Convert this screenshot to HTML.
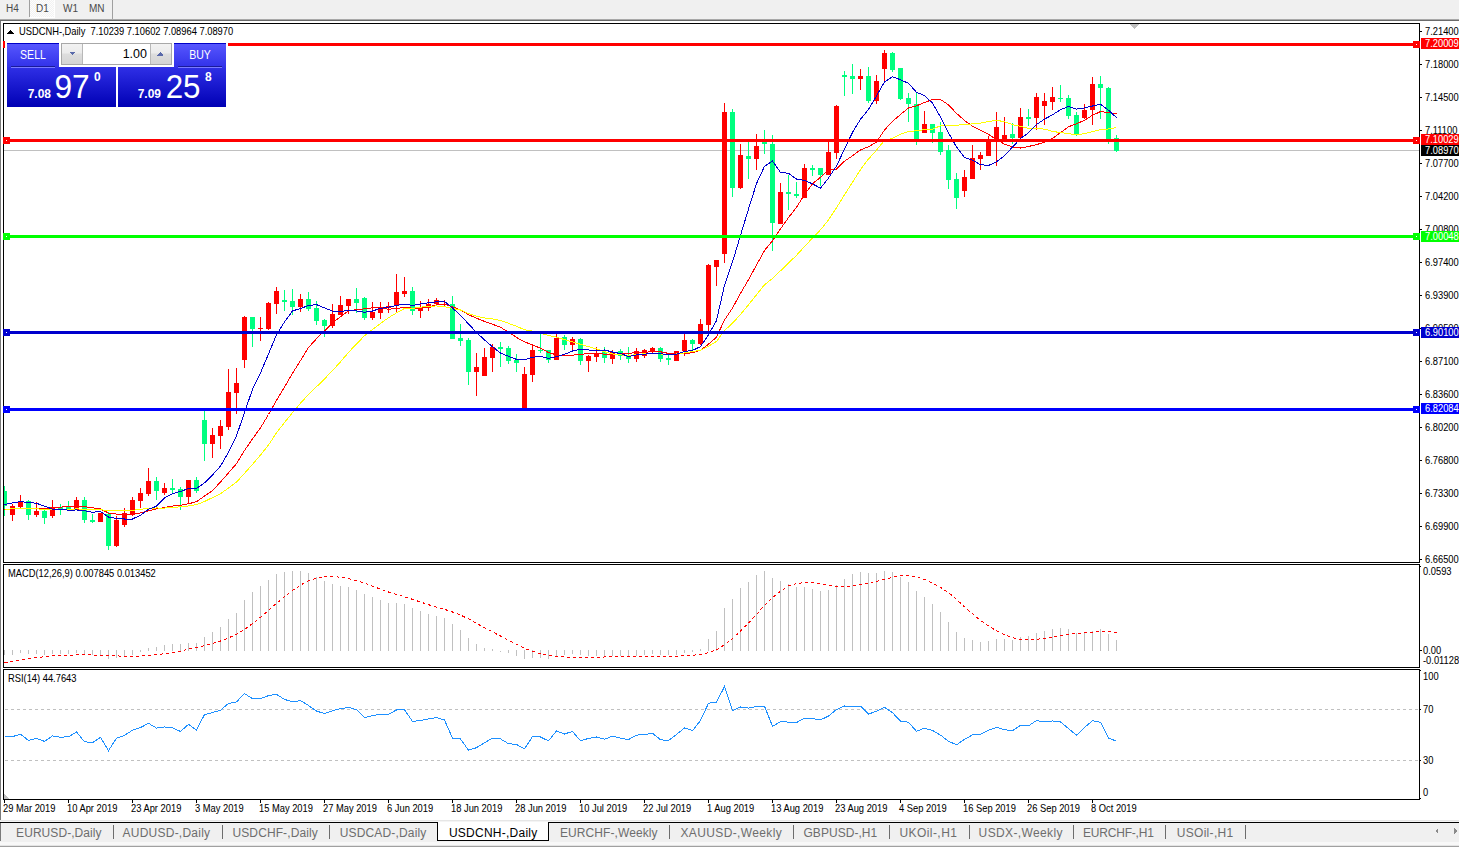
<!DOCTYPE html>
<html><head><meta charset="utf-8"><style>
html,body{margin:0;padding:0;background:#fff;}
body{width:1459px;height:847px;overflow:hidden;position:relative;}
svg{position:absolute;left:0;top:0;font-family:"Liberation Sans", sans-serif;}
</style></head><body>
<svg width="1459" height="847" viewBox="0 0 1459 847" shape-rendering="crispEdges">
<defs>
<pattern id="chk" width="2" height="2" patternUnits="userSpaceOnUse"><rect width="2" height="2" fill="#f2f2f2"/><rect width="1" height="1" fill="#fdfdfd"/><rect x="1" y="1" width="1" height="1" fill="#fdfdfd"/></pattern>
<clipPath id="mainclip"><rect x="4" y="24" width="1415" height="538"/></clipPath>
<linearGradient id="gtop" x1="0" y1="0" x2="0" y2="1"><stop offset="0" stop-color="#5858ff"/><stop offset="1" stop-color="#3030e8"/></linearGradient>
<linearGradient id="gbig" x1="0" y1="0" x2="0" y2="1"><stop offset="0" stop-color="#2f2fe6"/><stop offset="1" stop-color="#0000b4"/></linearGradient>
<linearGradient id="gbtn" x1="0" y1="0" x2="0" y2="1"><stop offset="0" stop-color="#f2f2f2"/><stop offset="0.45" stop-color="#ebebeb"/><stop offset="0.5" stop-color="#dddddd"/><stop offset="1" stop-color="#d4d4d4"/></linearGradient>
</defs>
<rect x="0" y="0" width="1459" height="19" fill="#f0f0f0"/><rect x="29" y="0" width="1" height="17" fill="#a0a0a0"/><rect x="30" y="0" width="25" height="18" fill="#ffffff"/><rect x="30" y="0" width="24" height="17" fill="url(#chk)"/><rect x="112" y="0" width="1" height="19" fill="#a0a0a0"/><rect x="0" y="19" width="1459" height="1" fill="#a8a8a8"/><rect x="0" y="20" width="1459" height="1" fill="#6a6a6a"/><text x="6" y="12" font-size="10" fill="#4a4a4a" stroke="#4a4a4a" stroke-width="0" letter-spacing="0" text-anchor="start" font-weight="normal">H4</text><text x="36" y="12" font-size="10" fill="#4a4a4a" stroke="#4a4a4a" stroke-width="0" letter-spacing="0" text-anchor="start" font-weight="normal">D1</text><text x="63" y="12" font-size="10" fill="#4a4a4a" stroke="#4a4a4a" stroke-width="0" letter-spacing="0" text-anchor="start" font-weight="normal">W1</text><text x="89" y="12" font-size="10" fill="#4a4a4a" stroke="#4a4a4a" stroke-width="0" letter-spacing="0" text-anchor="start" font-weight="normal">MN</text><rect x="0" y="21" width="1" height="799" fill="#7a7a7a"/><rect x="3" y="23" width="1417" height="1" fill="#000"/><rect x="3" y="562" width="1417" height="1" fill="#000"/><rect x="3" y="23" width="1" height="540" fill="#000"/><rect x="1419" y="23" width="1" height="540" fill="#000"/><rect x="3" y="564" width="1417" height="1" fill="#000"/><rect x="3" y="667" width="1417" height="1" fill="#000"/><rect x="3" y="564" width="1" height="104" fill="#000"/><rect x="1419" y="564" width="1" height="104" fill="#000"/><rect x="3" y="669" width="1417" height="1" fill="#000"/><rect x="3" y="799" width="1417" height="1" fill="#000"/><rect x="3" y="669" width="1" height="131" fill="#000"/><rect x="1419" y="669" width="1" height="131" fill="#000"/><rect x="1420" y="31" width="2" height="1" fill="#000"/><text transform="translate(1425 35) scale(0.89 1)" x="0" y="0" font-size="10.5" fill="#000" stroke="#000" stroke-width="0.05" letter-spacing="0" text-anchor="start" font-weight="normal">7.21400</text><rect x="1420" y="64" width="2" height="1" fill="#000"/><text transform="translate(1425 68) scale(0.89 1)" x="0" y="0" font-size="10.5" fill="#000" stroke="#000" stroke-width="0.05" letter-spacing="0" text-anchor="start" font-weight="normal">7.18000</text><rect x="1420" y="97" width="2" height="1" fill="#000"/><text transform="translate(1425 101) scale(0.89 1)" x="0" y="0" font-size="10.5" fill="#000" stroke="#000" stroke-width="0.05" letter-spacing="0" text-anchor="start" font-weight="normal">7.14500</text><rect x="1420" y="130" width="2" height="1" fill="#000"/><text transform="translate(1425 134) scale(0.89 1)" x="0" y="0" font-size="10.5" fill="#000" stroke="#000" stroke-width="0.05" letter-spacing="0" text-anchor="start" font-weight="normal">7.11100</text><rect x="1420" y="163" width="2" height="1" fill="#000"/><text transform="translate(1425 167) scale(0.89 1)" x="0" y="0" font-size="10.5" fill="#000" stroke="#000" stroke-width="0.05" letter-spacing="0" text-anchor="start" font-weight="normal">7.07700</text><rect x="1420" y="196" width="2" height="1" fill="#000"/><text transform="translate(1425 200) scale(0.89 1)" x="0" y="0" font-size="10.5" fill="#000" stroke="#000" stroke-width="0.05" letter-spacing="0" text-anchor="start" font-weight="normal">7.04200</text><rect x="1420" y="229" width="2" height="1" fill="#000"/><text transform="translate(1425 233) scale(0.89 1)" x="0" y="0" font-size="10.5" fill="#000" stroke="#000" stroke-width="0.05" letter-spacing="0" text-anchor="start" font-weight="normal">7.00800</text><rect x="1420" y="262" width="2" height="1" fill="#000"/><text transform="translate(1425 266) scale(0.89 1)" x="0" y="0" font-size="10.5" fill="#000" stroke="#000" stroke-width="0.05" letter-spacing="0" text-anchor="start" font-weight="normal">6.97400</text><rect x="1420" y="295" width="2" height="1" fill="#000"/><text transform="translate(1425 299) scale(0.89 1)" x="0" y="0" font-size="10.5" fill="#000" stroke="#000" stroke-width="0.05" letter-spacing="0" text-anchor="start" font-weight="normal">6.93900</text><rect x="1420" y="328" width="2" height="1" fill="#000"/><text transform="translate(1425 332) scale(0.89 1)" x="0" y="0" font-size="10.5" fill="#000" stroke="#000" stroke-width="0.05" letter-spacing="0" text-anchor="start" font-weight="normal">6.90500</text><rect x="1420" y="361" width="2" height="1" fill="#000"/><text transform="translate(1425 365) scale(0.89 1)" x="0" y="0" font-size="10.5" fill="#000" stroke="#000" stroke-width="0.05" letter-spacing="0" text-anchor="start" font-weight="normal">6.87100</text><rect x="1420" y="394" width="2" height="1" fill="#000"/><text transform="translate(1425 398) scale(0.89 1)" x="0" y="0" font-size="10.5" fill="#000" stroke="#000" stroke-width="0.05" letter-spacing="0" text-anchor="start" font-weight="normal">6.83600</text><rect x="1420" y="427" width="2" height="1" fill="#000"/><text transform="translate(1425 431) scale(0.89 1)" x="0" y="0" font-size="10.5" fill="#000" stroke="#000" stroke-width="0.05" letter-spacing="0" text-anchor="start" font-weight="normal">6.80200</text><rect x="1420" y="460" width="2" height="1" fill="#000"/><text transform="translate(1425 464) scale(0.89 1)" x="0" y="0" font-size="10.5" fill="#000" stroke="#000" stroke-width="0.05" letter-spacing="0" text-anchor="start" font-weight="normal">6.76800</text><rect x="1420" y="493" width="2" height="1" fill="#000"/><text transform="translate(1425 497) scale(0.89 1)" x="0" y="0" font-size="10.5" fill="#000" stroke="#000" stroke-width="0.05" letter-spacing="0" text-anchor="start" font-weight="normal">6.73300</text><rect x="1420" y="526" width="2" height="1" fill="#000"/><text transform="translate(1425 530) scale(0.89 1)" x="0" y="0" font-size="10.5" fill="#000" stroke="#000" stroke-width="0.05" letter-spacing="0" text-anchor="start" font-weight="normal">6.69900</text><rect x="1420" y="559" width="2" height="1" fill="#000"/><text transform="translate(1425 563) scale(0.89 1)" x="0" y="0" font-size="10.5" fill="#000" stroke="#000" stroke-width="0.05" letter-spacing="0" text-anchor="start" font-weight="normal">6.66500</text><rect x="4" y="150" width="1415" height="1" fill="#c0c0c0"/><rect x="1421" y="38" width="38" height="11" fill="#ff0000"/><text transform="translate(1425 47) scale(0.89 1)" x="0" y="0" font-size="10.5" fill="#fff" stroke="#fff" stroke-width="0.05" letter-spacing="0" text-anchor="start" font-weight="normal">7.20009</text><rect x="1421" y="134" width="38" height="11" fill="#ff0000"/><text transform="translate(1425 143) scale(0.89 1)" x="0" y="0" font-size="10.5" fill="#fff" stroke="#fff" stroke-width="0.05" letter-spacing="0" text-anchor="start" font-weight="normal">7.10029</text><rect x="1421" y="145" width="38" height="11" fill="#000000"/><text transform="translate(1425 154) scale(0.89 1)" x="0" y="0" font-size="10.5" fill="#fff" stroke="#fff" stroke-width="0.05" letter-spacing="0" text-anchor="start" font-weight="normal">7.08970</text><rect x="1421" y="231" width="38" height="11" fill="#00ff00"/><text transform="translate(1425 240) scale(0.89 1)" x="0" y="0" font-size="10.5" fill="#fff" stroke="#fff" stroke-width="0.05" letter-spacing="0" text-anchor="start" font-weight="normal">7.00048</text><rect x="1421" y="327" width="38" height="11" fill="#0000cd"/><text transform="translate(1425 336) scale(0.89 1)" x="0" y="0" font-size="10.5" fill="#fff" stroke="#fff" stroke-width="0.05" letter-spacing="0" text-anchor="start" font-weight="normal">6.90100</text><rect x="1421" y="403" width="38" height="11" fill="#0000ff"/><text transform="translate(1425 412) scale(0.89 1)" x="0" y="0" font-size="10.5" fill="#fff" stroke="#fff" stroke-width="0.05" letter-spacing="0" text-anchor="start" font-weight="normal">6.82084</text><polygon points="1129.5,24 1139.5,24 1134.5,29" fill="#c0c0c0"/><g clip-path="url(#mainclip)"><rect x="4" y="486" width="1" height="30" fill="#00ff7f"/><rect x="2" y="491" width="5" height="15" fill="#00ff7f"/><rect x="12" y="504" width="1" height="17" fill="#ff0000"/><rect x="10" y="506" width="5" height="9" fill="#ff0000"/><rect x="20" y="495" width="1" height="13" fill="#ff0000"/><rect x="18" y="501" width="5" height="6" fill="#ff0000"/><rect x="28" y="500" width="1" height="20" fill="#00ff7f"/><rect x="26" y="501" width="5" height="14" fill="#00ff7f"/><rect x="36" y="502" width="1" height="15" fill="#ff0000"/><rect x="34" y="511" width="5" height="4" fill="#ff0000"/><rect x="44" y="510" width="1" height="14" fill="#00ff7f"/><rect x="42" y="511" width="5" height="7" fill="#00ff7f"/><rect x="52" y="500" width="1" height="18" fill="#ff0000"/><rect x="50" y="507" width="5" height="9" fill="#ff0000"/><rect x="60" y="504" width="1" height="11" fill="#00ff7f"/><rect x="58" y="507" width="5" height="3" fill="#00ff7f"/><rect x="68" y="501" width="1" height="8" fill="#00ff7f"/><rect x="66" y="507" width="5" height="2" fill="#00ff7f"/><rect x="76" y="497" width="1" height="13" fill="#ff0000"/><rect x="74" y="500" width="5" height="10" fill="#ff0000"/><rect x="84" y="497" width="1" height="26" fill="#00ff7f"/><rect x="82" y="500" width="5" height="20" fill="#00ff7f"/><rect x="92" y="514" width="1" height="9" fill="#00ff7f"/><rect x="90" y="520" width="5" height="2" fill="#00ff7f"/><rect x="100" y="513" width="1" height="9" fill="#ff0000"/><rect x="98" y="513" width="5" height="9" fill="#ff0000"/><rect x="108" y="512" width="1" height="38" fill="#00ff7f"/><rect x="106" y="514" width="5" height="32" fill="#00ff7f"/><rect x="116" y="516" width="1" height="31" fill="#ff0000"/><rect x="114" y="520" width="5" height="26" fill="#ff0000"/><rect x="124" y="508" width="1" height="19" fill="#ff0000"/><rect x="122" y="513" width="5" height="12" fill="#ff0000"/><rect x="132" y="497" width="1" height="19" fill="#ff0000"/><rect x="130" y="500" width="5" height="14" fill="#ff0000"/><rect x="140" y="488" width="1" height="20" fill="#ff0000"/><rect x="138" y="493" width="5" height="8" fill="#ff0000"/><rect x="148" y="468" width="1" height="28" fill="#ff0000"/><rect x="146" y="481" width="5" height="13" fill="#ff0000"/><rect x="156" y="477" width="1" height="23" fill="#00ff7f"/><rect x="154" y="481" width="5" height="10" fill="#00ff7f"/><rect x="164" y="483" width="1" height="12" fill="#ff0000"/><rect x="162" y="488" width="5" height="5" fill="#ff0000"/><rect x="172" y="479" width="1" height="14" fill="#00ff7f"/><rect x="170" y="488" width="5" height="2" fill="#00ff7f"/><rect x="180" y="487" width="1" height="23" fill="#00ff7f"/><rect x="178" y="489" width="5" height="8" fill="#00ff7f"/><rect x="188" y="480" width="1" height="23" fill="#ff0000"/><rect x="186" y="480" width="5" height="17" fill="#ff0000"/><rect x="196" y="477" width="1" height="16" fill="#00ff7f"/><rect x="194" y="480" width="5" height="11" fill="#00ff7f"/><rect x="204" y="409" width="1" height="52" fill="#00ff7f"/><rect x="202" y="420" width="5" height="24" fill="#00ff7f"/><rect x="212" y="428" width="1" height="30" fill="#ff0000"/><rect x="210" y="435" width="5" height="9" fill="#ff0000"/><rect x="220" y="420" width="1" height="29" fill="#ff0000"/><rect x="218" y="426" width="5" height="10" fill="#ff0000"/><rect x="228" y="369" width="1" height="61" fill="#ff0000"/><rect x="226" y="392" width="5" height="35" fill="#ff0000"/><rect x="236" y="368" width="1" height="46" fill="#ff0000"/><rect x="234" y="383" width="5" height="10" fill="#ff0000"/><rect x="244" y="316" width="1" height="52" fill="#ff0000"/><rect x="242" y="317" width="5" height="43" fill="#ff0000"/><rect x="252" y="317" width="1" height="30" fill="#00ff7f"/><rect x="250" y="317" width="5" height="12" fill="#00ff7f"/><rect x="260" y="317" width="1" height="24" fill="#ff0000"/><rect x="258" y="328" width="5" height="1" fill="#ff0000"/><rect x="268" y="302" width="1" height="28" fill="#ff0000"/><rect x="266" y="303" width="5" height="26" fill="#ff0000"/><rect x="276" y="287" width="1" height="27" fill="#ff0000"/><rect x="274" y="291" width="5" height="13" fill="#ff0000"/><rect x="284" y="290" width="1" height="21" fill="#00ff7f"/><rect x="282" y="300" width="5" height="2" fill="#00ff7f"/><rect x="292" y="289" width="1" height="26" fill="#00ff7f"/><rect x="290" y="301" width="5" height="6" fill="#00ff7f"/><rect x="300" y="294" width="1" height="18" fill="#ff0000"/><rect x="298" y="299" width="5" height="8" fill="#ff0000"/><rect x="308" y="292" width="1" height="19" fill="#00ff7f"/><rect x="306" y="299" width="5" height="10" fill="#00ff7f"/><rect x="316" y="301" width="1" height="24" fill="#00ff7f"/><rect x="314" y="308" width="5" height="13" fill="#00ff7f"/><rect x="324" y="319" width="1" height="18" fill="#00ff7f"/><rect x="322" y="320" width="5" height="6" fill="#00ff7f"/><rect x="332" y="304" width="1" height="24" fill="#ff0000"/><rect x="330" y="314" width="5" height="12" fill="#ff0000"/><rect x="340" y="296" width="1" height="19" fill="#ff0000"/><rect x="338" y="305" width="5" height="10" fill="#ff0000"/><rect x="348" y="299" width="1" height="15" fill="#ff0000"/><rect x="346" y="299" width="5" height="7" fill="#ff0000"/><rect x="356" y="288" width="1" height="25" fill="#00ff7f"/><rect x="354" y="299" width="5" height="4" fill="#00ff7f"/><rect x="364" y="297" width="1" height="23" fill="#00ff7f"/><rect x="362" y="298" width="5" height="20" fill="#00ff7f"/><rect x="372" y="302" width="1" height="18" fill="#ff0000"/><rect x="370" y="312" width="5" height="6" fill="#ff0000"/><rect x="380" y="302" width="1" height="17" fill="#ff0000"/><rect x="378" y="307" width="5" height="6" fill="#ff0000"/><rect x="388" y="302" width="1" height="11" fill="#ff0000"/><rect x="386" y="306" width="5" height="2" fill="#ff0000"/><rect x="396" y="274" width="1" height="39" fill="#ff0000"/><rect x="394" y="292" width="5" height="14" fill="#ff0000"/><rect x="404" y="277" width="1" height="20" fill="#ff0000"/><rect x="402" y="291" width="5" height="3" fill="#ff0000"/><rect x="412" y="287" width="1" height="28" fill="#00ff7f"/><rect x="410" y="291" width="5" height="20" fill="#00ff7f"/><rect x="420" y="301" width="1" height="17" fill="#ff0000"/><rect x="418" y="308" width="5" height="3" fill="#ff0000"/><rect x="428" y="299" width="1" height="12" fill="#ff0000"/><rect x="426" y="304" width="5" height="4" fill="#ff0000"/><rect x="436" y="298" width="1" height="7" fill="#ff0000"/><rect x="434" y="300" width="5" height="4" fill="#ff0000"/><rect x="444" y="300" width="1" height="6" fill="#ff0000"/><rect x="442" y="304" width="5" height="1" fill="#ff0000"/><rect x="452" y="296" width="1" height="43" fill="#00ff7f"/><rect x="450" y="304" width="5" height="35" fill="#00ff7f"/><rect x="460" y="324" width="1" height="22" fill="#00ff7f"/><rect x="458" y="338" width="5" height="3" fill="#00ff7f"/><rect x="468" y="338" width="1" height="47" fill="#00ff7f"/><rect x="466" y="340" width="5" height="32" fill="#00ff7f"/><rect x="476" y="353" width="1" height="43" fill="#ff0000"/><rect x="474" y="367" width="5" height="5" fill="#ff0000"/><rect x="484" y="348" width="1" height="28" fill="#ff0000"/><rect x="482" y="357" width="5" height="19" fill="#ff0000"/><rect x="492" y="344" width="1" height="28" fill="#ff0000"/><rect x="490" y="347" width="5" height="11" fill="#ff0000"/><rect x="500" y="342" width="1" height="25" fill="#00ff7f"/><rect x="498" y="347" width="5" height="2" fill="#00ff7f"/><rect x="508" y="346" width="1" height="18" fill="#00ff7f"/><rect x="506" y="348" width="5" height="13" fill="#00ff7f"/><rect x="516" y="354" width="1" height="18" fill="#00ff7f"/><rect x="514" y="360" width="5" height="3" fill="#00ff7f"/><rect x="524" y="367" width="1" height="41" fill="#ff0000"/><rect x="522" y="374" width="5" height="34" fill="#ff0000"/><rect x="532" y="345" width="1" height="37" fill="#ff0000"/><rect x="530" y="350" width="5" height="25" fill="#ff0000"/><rect x="540" y="334" width="1" height="19" fill="#00ff7f"/><rect x="538" y="350" width="5" height="1" fill="#00ff7f"/><rect x="548" y="350" width="1" height="13" fill="#00ff7f"/><rect x="546" y="350" width="5" height="10" fill="#00ff7f"/><rect x="556" y="334" width="1" height="26" fill="#ff0000"/><rect x="554" y="338" width="5" height="22" fill="#ff0000"/><rect x="564" y="335" width="1" height="15" fill="#00ff7f"/><rect x="562" y="337" width="5" height="8" fill="#00ff7f"/><rect x="572" y="337" width="1" height="14" fill="#ff0000"/><rect x="570" y="339" width="5" height="6" fill="#ff0000"/><rect x="580" y="338" width="1" height="27" fill="#00ff7f"/><rect x="578" y="339" width="5" height="22" fill="#00ff7f"/><rect x="588" y="355" width="1" height="17" fill="#ff0000"/><rect x="586" y="356" width="5" height="5" fill="#ff0000"/><rect x="596" y="347" width="1" height="15" fill="#ff0000"/><rect x="594" y="353" width="5" height="4" fill="#ff0000"/><rect x="604" y="347" width="1" height="16" fill="#00ff7f"/><rect x="602" y="352" width="5" height="6" fill="#00ff7f"/><rect x="612" y="350" width="1" height="14" fill="#ff0000"/><rect x="610" y="352" width="5" height="7" fill="#ff0000"/><rect x="620" y="349" width="1" height="11" fill="#00ff7f"/><rect x="618" y="351" width="5" height="5" fill="#00ff7f"/><rect x="628" y="347" width="1" height="16" fill="#00ff7f"/><rect x="626" y="356" width="5" height="3" fill="#00ff7f"/><rect x="636" y="348" width="1" height="14" fill="#ff0000"/><rect x="634" y="351" width="5" height="8" fill="#ff0000"/><rect x="644" y="349" width="1" height="9" fill="#ff0000"/><rect x="642" y="350" width="5" height="6" fill="#ff0000"/><rect x="652" y="347" width="1" height="6" fill="#ff0000"/><rect x="650" y="348" width="5" height="4" fill="#ff0000"/><rect x="660" y="347" width="1" height="15" fill="#00ff7f"/><rect x="658" y="348" width="5" height="11" fill="#00ff7f"/><rect x="668" y="355" width="1" height="10" fill="#00ff7f"/><rect x="666" y="358" width="5" height="2" fill="#00ff7f"/><rect x="676" y="351" width="1" height="10" fill="#ff0000"/><rect x="674" y="351" width="5" height="10" fill="#ff0000"/><rect x="684" y="334" width="1" height="22" fill="#ff0000"/><rect x="682" y="340" width="5" height="11" fill="#ff0000"/><rect x="692" y="339" width="1" height="11" fill="#00ff7f"/><rect x="690" y="340" width="5" height="4" fill="#00ff7f"/><rect x="700" y="319" width="1" height="26" fill="#ff0000"/><rect x="698" y="324" width="5" height="20" fill="#ff0000"/><rect x="708" y="264" width="1" height="68" fill="#ff0000"/><rect x="706" y="265" width="5" height="60" fill="#ff0000"/><rect x="716" y="260" width="1" height="26" fill="#ff0000"/><rect x="714" y="260" width="5" height="7" fill="#ff0000"/><rect x="724" y="103" width="1" height="160" fill="#ff0000"/><rect x="722" y="112" width="5" height="142" fill="#ff0000"/><rect x="732" y="109" width="1" height="88" fill="#00ff7f"/><rect x="730" y="112" width="5" height="76" fill="#00ff7f"/><rect x="740" y="144" width="1" height="45" fill="#ff0000"/><rect x="738" y="155" width="5" height="33" fill="#ff0000"/><rect x="748" y="142" width="1" height="37" fill="#00ff7f"/><rect x="746" y="156" width="5" height="3" fill="#00ff7f"/><rect x="756" y="134" width="1" height="36" fill="#ff0000"/><rect x="754" y="146" width="5" height="13" fill="#ff0000"/><rect x="764" y="130" width="1" height="24" fill="#00ff7f"/><rect x="762" y="142" width="5" height="2" fill="#00ff7f"/><rect x="772" y="135" width="1" height="116" fill="#00ff7f"/><rect x="770" y="144" width="5" height="79" fill="#00ff7f"/><rect x="780" y="183" width="1" height="41" fill="#ff0000"/><rect x="778" y="192" width="5" height="32" fill="#ff0000"/><rect x="788" y="175" width="1" height="35" fill="#00ff7f"/><rect x="786" y="192" width="5" height="2" fill="#00ff7f"/><rect x="796" y="182" width="1" height="16" fill="#00ff7f"/><rect x="794" y="194" width="5" height="2" fill="#00ff7f"/><rect x="804" y="164" width="1" height="34" fill="#ff0000"/><rect x="802" y="168" width="5" height="30" fill="#ff0000"/><rect x="812" y="165" width="1" height="11" fill="#00ff7f"/><rect x="810" y="168" width="5" height="2" fill="#00ff7f"/><rect x="820" y="168" width="1" height="18" fill="#00ff7f"/><rect x="818" y="168" width="5" height="7" fill="#00ff7f"/><rect x="828" y="142" width="1" height="33" fill="#ff0000"/><rect x="826" y="152" width="5" height="23" fill="#ff0000"/><rect x="836" y="105" width="1" height="54" fill="#ff0000"/><rect x="834" y="106" width="5" height="47" fill="#ff0000"/><rect x="844" y="71" width="1" height="25" fill="#00ff7f"/><rect x="842" y="75" width="5" height="2" fill="#00ff7f"/><rect x="852" y="64" width="1" height="30" fill="#00ff7f"/><rect x="850" y="76" width="5" height="3" fill="#00ff7f"/><rect x="860" y="69" width="1" height="21" fill="#ff0000"/><rect x="858" y="76" width="5" height="3" fill="#ff0000"/><rect x="868" y="67" width="1" height="36" fill="#00ff7f"/><rect x="866" y="76" width="5" height="25" fill="#00ff7f"/><rect x="876" y="75" width="1" height="29" fill="#ff0000"/><rect x="874" y="81" width="5" height="20" fill="#ff0000"/><rect x="884" y="50" width="1" height="31" fill="#ff0000"/><rect x="882" y="53" width="5" height="16" fill="#ff0000"/><rect x="892" y="52" width="1" height="20" fill="#00ff7f"/><rect x="890" y="53" width="5" height="17" fill="#00ff7f"/><rect x="900" y="68" width="1" height="32" fill="#00ff7f"/><rect x="898" y="68" width="5" height="31" fill="#00ff7f"/><rect x="908" y="93" width="1" height="29" fill="#00ff7f"/><rect x="906" y="98" width="5" height="6" fill="#00ff7f"/><rect x="916" y="92" width="1" height="53" fill="#00ff7f"/><rect x="914" y="104" width="5" height="35" fill="#00ff7f"/><rect x="924" y="111" width="1" height="22" fill="#ff0000"/><rect x="922" y="124" width="5" height="9" fill="#ff0000"/><rect x="932" y="124" width="1" height="19" fill="#00ff7f"/><rect x="930" y="124" width="5" height="9" fill="#00ff7f"/><rect x="940" y="122" width="1" height="33" fill="#00ff7f"/><rect x="938" y="132" width="5" height="20" fill="#00ff7f"/><rect x="948" y="145" width="1" height="44" fill="#00ff7f"/><rect x="946" y="150" width="5" height="30" fill="#00ff7f"/><rect x="956" y="173" width="1" height="36" fill="#00ff7f"/><rect x="954" y="179" width="5" height="19" fill="#00ff7f"/><rect x="964" y="170" width="1" height="27" fill="#ff0000"/><rect x="962" y="177" width="5" height="14" fill="#ff0000"/><rect x="972" y="145" width="1" height="34" fill="#ff0000"/><rect x="970" y="158" width="5" height="21" fill="#ff0000"/><rect x="980" y="152" width="1" height="18" fill="#ff0000"/><rect x="978" y="155" width="5" height="4" fill="#ff0000"/><rect x="988" y="136" width="1" height="20" fill="#ff0000"/><rect x="986" y="139" width="5" height="17" fill="#ff0000"/><rect x="996" y="112" width="1" height="54" fill="#ff0000"/><rect x="994" y="127" width="5" height="15" fill="#ff0000"/><rect x="1004" y="117" width="1" height="25" fill="#ff0000"/><rect x="1002" y="135" width="5" height="6" fill="#ff0000"/><rect x="1012" y="123" width="1" height="21" fill="#00ff7f"/><rect x="1010" y="134" width="5" height="4" fill="#00ff7f"/><rect x="1020" y="108" width="1" height="30" fill="#ff0000"/><rect x="1018" y="117" width="5" height="21" fill="#ff0000"/><rect x="1028" y="109" width="1" height="17" fill="#00ff7f"/><rect x="1026" y="117" width="5" height="2" fill="#00ff7f"/><rect x="1036" y="93" width="1" height="37" fill="#ff0000"/><rect x="1034" y="97" width="5" height="21" fill="#ff0000"/><rect x="1044" y="93" width="1" height="32" fill="#ff0000"/><rect x="1042" y="101" width="5" height="5" fill="#ff0000"/><rect x="1052" y="87" width="1" height="23" fill="#ff0000"/><rect x="1050" y="97" width="5" height="5" fill="#ff0000"/><rect x="1060" y="85" width="1" height="17" fill="#00ff7f"/><rect x="1058" y="98" width="5" height="1" fill="#00ff7f"/><rect x="1068" y="95" width="1" height="24" fill="#00ff7f"/><rect x="1066" y="98" width="5" height="18" fill="#00ff7f"/><rect x="1076" y="112" width="1" height="24" fill="#00ff7f"/><rect x="1074" y="115" width="5" height="20" fill="#00ff7f"/><rect x="1084" y="104" width="1" height="15" fill="#ff0000"/><rect x="1082" y="110" width="5" height="8" fill="#ff0000"/><rect x="1092" y="77" width="1" height="48" fill="#ff0000"/><rect x="1090" y="84" width="5" height="26" fill="#ff0000"/><rect x="1100" y="76" width="1" height="43" fill="#00ff7f"/><rect x="1098" y="84" width="5" height="4" fill="#00ff7f"/><rect x="1108" y="87" width="1" height="57" fill="#00ff7f"/><rect x="1106" y="88" width="5" height="51" fill="#00ff7f"/><rect x="1116" y="135" width="1" height="17" fill="#00ff7f"/><rect x="1114" y="138" width="5" height="13" fill="#00ff7f"/></g><g clip-path="url(#mainclip)"><polyline points="4.5,509.8 12.5,509.3 20.5,508.4 28.5,508.4 36.5,508.3 44.5,508.5 52.5,507.8 60.5,507.1 68.5,506.5 76.5,505.9 84.5,506.6 92.5,507.8 100.5,508.9 108.5,513.1 116.5,514.1 124.5,514.6 132.5,514.5 140.5,512.9 148.5,510.8 156.5,508.9 164.5,507.5 172.5,506.1 180.5,505.2 188.5,503.8 196.5,501.7 204.5,496.1 212.5,490.6 220.5,482.0 228.5,472.9 236.5,463.6 244.5,450.5 252.5,438.8 260.5,427.9 268.5,414.5 276.5,400.4 284.5,387.0 292.5,373.4 300.5,360.5 308.5,347.5 316.5,338.7 324.5,330.9 332.5,322.9 340.5,316.7 348.5,310.7 356.5,309.7 364.5,308.9 372.5,307.8 380.5,308.1 388.5,309.2 396.5,308.5 404.5,307.3 412.5,308.2 420.5,308.1 428.5,306.9 436.5,305.0 444.5,304.3 452.5,306.8 460.5,309.8 468.5,314.7 476.5,318.2 484.5,321.4 492.5,324.2 500.5,327.3 508.5,332.2 516.5,337.4 524.5,341.9 532.5,344.9 540.5,348.2 548.5,352.5 556.5,354.9 564.5,355.4 572.5,355.2 580.5,354.4 588.5,353.6 596.5,353.4 604.5,354.1 612.5,354.4 620.5,354.0 628.5,353.7 636.5,352.1 644.5,352.1 652.5,351.9 660.5,351.8 668.5,353.4 676.5,353.8 684.5,353.9 692.5,352.7 700.5,350.4 708.5,344.1 716.5,337.1 724.5,320.0 732.5,308.0 740.5,293.4 748.5,279.7 756.5,265.1 764.5,250.5 772.5,240.8 780.5,228.8 788.5,217.6 796.5,207.3 804.5,194.7 812.5,183.7 820.5,177.3 828.5,169.5 836.5,169.2 844.5,161.2 852.5,155.8 860.5,149.9 868.5,146.7 876.5,142.1 884.5,130.0 892.5,121.3 900.5,114.5 908.5,107.9 916.5,105.8 924.5,102.5 932.5,99.5 940.5,99.5 948.5,104.8 956.5,113.4 964.5,120.4 972.5,126.3 980.5,130.1 988.5,134.3 996.5,139.6 1004.5,144.2 1012.5,147.0 1020.5,148.0 1028.5,146.5 1036.5,144.6 1044.5,142.3 1052.5,138.4 1060.5,132.6 1068.5,126.8 1076.5,123.8 1084.5,120.3 1092.5,115.3 1100.5,111.6 1108.5,112.5 1116.5,113.6" fill="none" stroke="#ff0000" stroke-width="1"/><polyline points="4.5,509.2 12.5,508.9 20.5,508.4 28.5,508.6 36.5,508.8 44.5,509.4 52.5,509.6 60.5,509.8 68.5,509.6 76.5,508.9 84.5,509.2 92.5,509.6 100.5,509.5 108.5,510.9 116.5,510.9 124.5,510.7 132.5,510.3 140.5,509.4 148.5,508.3 156.5,508.0 164.5,508.1 172.5,507.3 180.5,506.9 188.5,505.9 196.5,504.7 204.5,501.5 212.5,497.6 220.5,493.7 228.5,488.1 236.5,482.1 244.5,473.4 252.5,464.3 260.5,455.0 268.5,445.0 276.5,432.9 284.5,422.5 292.5,412.7 300.5,403.2 308.5,394.4 316.5,386.8 324.5,378.9 332.5,370.6 340.5,361.8 348.5,352.4 356.5,344.0 364.5,335.7 372.5,329.5 380.5,323.4 388.5,317.7 396.5,312.9 404.5,308.5 412.5,308.3 420.5,307.3 428.5,306.1 436.5,306.0 444.5,306.6 452.5,308.4 460.5,310.0 468.5,313.5 476.5,316.2 484.5,317.9 492.5,318.9 500.5,320.6 508.5,323.3 516.5,326.3 524.5,329.7 532.5,331.2 540.5,333.1 548.5,335.6 556.5,337.1 564.5,339.6 572.5,341.9 580.5,344.3 588.5,346.6 596.5,348.9 604.5,351.7 612.5,354.0 620.5,354.8 628.5,355.6 636.5,354.6 644.5,353.8 652.5,353.4 660.5,354.0 668.5,354.5 676.5,354.0 684.5,352.9 692.5,351.5 700.5,350.3 708.5,346.2 716.5,341.4 724.5,330.6 732.5,323.2 740.5,314.4 748.5,304.8 756.5,294.8 764.5,284.8 772.5,278.4 780.5,270.8 788.5,263.1 796.5,255.3 804.5,246.6 812.5,238.0 820.5,229.8 828.5,219.9 836.5,207.8 844.5,194.8 852.5,182.3 860.5,169.6 868.5,159.0 876.5,150.2 884.5,140.3 892.5,138.3 900.5,134.1 908.5,131.6 916.5,130.7 924.5,129.6 932.5,129.1 940.5,125.7 948.5,125.1 956.5,125.3 964.5,124.4 972.5,123.9 980.5,123.2 988.5,121.5 996.5,120.3 1004.5,121.7 1012.5,124.6 1020.5,126.4 1028.5,128.4 1036.5,128.3 1044.5,129.2 1052.5,131.3 1060.5,132.7 1068.5,133.5 1076.5,135.0 1084.5,133.6 1092.5,131.7 1100.5,129.6 1108.5,129.0 1116.5,127.6" fill="none" stroke="#ffff00" stroke-width="1"/><polyline points="4.5,504.5 12.5,502.9 20.5,501.7 28.5,502.4 36.5,503.3 44.5,506.2 52.5,509.1 60.5,509.7 68.5,510.1 76.5,510.0 84.5,510.7 92.5,512.3 100.5,511.5 108.5,517.0 116.5,518.4 124.5,519.0 132.5,519.0 140.5,515.2 148.5,509.3 156.5,506.2 164.5,498.0 172.5,493.7 180.5,491.4 188.5,488.6 196.5,488.3 204.5,482.9 212.5,474.9 220.5,466.1 228.5,452.1 236.5,435.8 244.5,412.5 252.5,389.4 260.5,372.9 268.5,354.0 276.5,334.7 284.5,321.9 292.5,311.0 300.5,308.4 308.5,305.6 316.5,304.6 324.5,307.9 332.5,311.1 340.5,311.6 348.5,310.4 356.5,311.0 364.5,312.3 372.5,311.0 380.5,308.3 388.5,307.2 396.5,305.4 404.5,304.2 412.5,305.4 420.5,303.9 428.5,302.8 436.5,301.8 444.5,301.4 452.5,308.1 460.5,315.3 468.5,324.0 476.5,332.4 484.5,340.0 492.5,346.7 500.5,353.1 508.5,356.3 516.5,359.4 524.5,359.7 532.5,357.3 540.5,356.4 548.5,358.3 556.5,356.7 564.5,354.4 572.5,351.0 580.5,349.1 588.5,350.0 596.5,350.3 604.5,350.0 612.5,352.0 620.5,353.6 628.5,356.4 636.5,355.0 644.5,354.1 652.5,353.4 660.5,353.6 668.5,354.8 676.5,354.1 684.5,351.4 692.5,350.4 700.5,346.6 708.5,334.8 716.5,320.6 724.5,285.1 732.5,261.9 740.5,235.4 748.5,209.0 756.5,183.6 764.5,166.3 772.5,161.0 780.5,172.4 788.5,173.3 796.5,179.1 804.5,180.4 812.5,183.9 820.5,188.2 828.5,178.1 836.5,165.9 844.5,149.2 852.5,132.4 860.5,119.3 868.5,109.4 876.5,96.0 884.5,81.9 892.5,76.7 900.5,79.8 908.5,83.3 916.5,92.3 924.5,95.6 932.5,103.1 940.5,117.2 948.5,132.9 956.5,147.0 964.5,157.4 972.5,160.2 980.5,164.7 988.5,165.5 996.5,161.9 1004.5,155.6 1012.5,147.1 1020.5,138.5 1028.5,132.8 1036.5,124.5 1044.5,119.1 1052.5,114.8 1060.5,109.7 1068.5,106.5 1076.5,109.1 1084.5,107.9 1092.5,106.0 1100.5,104.2 1108.5,110.2 1116.5,117.6" fill="none" stroke="#0000cd" stroke-width="1"/></g><rect x="4" y="43" width="1415" height="3" fill="#ff0000"/><rect x="3" y="41" width="7" height="7" fill="#ff0000"/><rect x="6" y="44" width="1" height="1" fill="#fff"/><rect x="1413" y="41" width="7" height="7" fill="#ff0000"/><rect x="1416" y="44" width="1" height="1" fill="#fff"/><rect x="4" y="139" width="1415" height="3" fill="#ff0000"/><rect x="3" y="137" width="7" height="7" fill="#ff0000"/><rect x="6" y="140" width="1" height="1" fill="#fff"/><rect x="1413" y="137" width="7" height="7" fill="#ff0000"/><rect x="1416" y="140" width="1" height="1" fill="#fff"/><rect x="4" y="235" width="1415" height="3" fill="#00ff00"/><rect x="3" y="233" width="7" height="7" fill="#00ff00"/><rect x="6" y="236" width="1" height="1" fill="#fff"/><rect x="1413" y="233" width="7" height="7" fill="#00ff00"/><rect x="1416" y="236" width="1" height="1" fill="#fff"/><rect x="4" y="331" width="1415" height="3" fill="#0000cd"/><rect x="3" y="329" width="7" height="7" fill="#0000cd"/><rect x="6" y="332" width="1" height="1" fill="#fff"/><rect x="1413" y="329" width="7" height="7" fill="#0000cd"/><rect x="1416" y="332" width="1" height="1" fill="#fff"/><rect x="4" y="408" width="1415" height="3" fill="#0000ff"/><rect x="3" y="406" width="7" height="7" fill="#0000ff"/><rect x="6" y="409" width="1" height="1" fill="#fff"/><rect x="1413" y="406" width="7" height="7" fill="#0000ff"/><rect x="1416" y="409" width="1" height="1" fill="#fff"/><rect x="4" y="650" width="1" height="5" fill="#c0c0c0"/><rect x="12" y="650" width="1" height="5" fill="#c0c0c0"/><rect x="20" y="650" width="1" height="3" fill="#c0c0c0"/><rect x="28" y="650" width="1" height="4" fill="#c0c0c0"/><rect x="36" y="650" width="1" height="4" fill="#c0c0c0"/><rect x="44" y="650" width="1" height="5" fill="#c0c0c0"/><rect x="52" y="650" width="1" height="4" fill="#c0c0c0"/><rect x="60" y="650" width="1" height="4" fill="#c0c0c0"/><rect x="68" y="650" width="1" height="4" fill="#c0c0c0"/><rect x="76" y="650" width="1" height="3" fill="#c0c0c0"/><rect x="84" y="650" width="1" height="4" fill="#c0c0c0"/><rect x="92" y="650" width="1" height="5" fill="#c0c0c0"/><rect x="100" y="650" width="1" height="5" fill="#c0c0c0"/><rect x="108" y="650" width="1" height="9" fill="#c0c0c0"/><rect x="116" y="650" width="1" height="8" fill="#c0c0c0"/><rect x="124" y="650" width="1" height="7" fill="#c0c0c0"/><rect x="132" y="650" width="1" height="5" fill="#c0c0c0"/><rect x="140" y="650" width="1" height="2" fill="#c0c0c0"/><rect x="148" y="648" width="1" height="3" fill="#c0c0c0"/><rect x="156" y="647" width="1" height="4" fill="#c0c0c0"/><rect x="164" y="645" width="1" height="6" fill="#c0c0c0"/><rect x="172" y="644" width="1" height="7" fill="#c0c0c0"/><rect x="180" y="644" width="1" height="7" fill="#c0c0c0"/><rect x="188" y="643" width="1" height="8" fill="#c0c0c0"/><rect x="196" y="643" width="1" height="8" fill="#c0c0c0"/><rect x="204" y="637" width="1" height="14" fill="#c0c0c0"/><rect x="212" y="632" width="1" height="19" fill="#c0c0c0"/><rect x="220" y="627" width="1" height="24" fill="#c0c0c0"/><rect x="228" y="619" width="1" height="32" fill="#c0c0c0"/><rect x="236" y="613" width="1" height="38" fill="#c0c0c0"/><rect x="244" y="600" width="1" height="51" fill="#c0c0c0"/><rect x="252" y="592" width="1" height="59" fill="#c0c0c0"/><rect x="260" y="586" width="1" height="65" fill="#c0c0c0"/><rect x="268" y="580" width="1" height="71" fill="#c0c0c0"/><rect x="276" y="574" width="1" height="77" fill="#c0c0c0"/><rect x="284" y="572" width="1" height="79" fill="#c0c0c0"/><rect x="292" y="571" width="1" height="80" fill="#c0c0c0"/><rect x="300" y="571" width="1" height="80" fill="#c0c0c0"/><rect x="308" y="573" width="1" height="78" fill="#c0c0c0"/><rect x="316" y="577" width="1" height="74" fill="#c0c0c0"/><rect x="324" y="581" width="1" height="70" fill="#c0c0c0"/><rect x="332" y="584" width="1" height="67" fill="#c0c0c0"/><rect x="340" y="586" width="1" height="65" fill="#c0c0c0"/><rect x="348" y="587" width="1" height="64" fill="#c0c0c0"/><rect x="356" y="590" width="1" height="61" fill="#c0c0c0"/><rect x="364" y="594" width="1" height="57" fill="#c0c0c0"/><rect x="372" y="597" width="1" height="54" fill="#c0c0c0"/><rect x="380" y="600" width="1" height="51" fill="#c0c0c0"/><rect x="388" y="603" width="1" height="48" fill="#c0c0c0"/><rect x="396" y="603" width="1" height="48" fill="#c0c0c0"/><rect x="404" y="604" width="1" height="47" fill="#c0c0c0"/><rect x="412" y="608" width="1" height="43" fill="#c0c0c0"/><rect x="420" y="611" width="1" height="40" fill="#c0c0c0"/><rect x="428" y="614" width="1" height="37" fill="#c0c0c0"/><rect x="436" y="616" width="1" height="35" fill="#c0c0c0"/><rect x="444" y="618" width="1" height="33" fill="#c0c0c0"/><rect x="452" y="624" width="1" height="27" fill="#c0c0c0"/><rect x="460" y="630" width="1" height="21" fill="#c0c0c0"/><rect x="468" y="638" width="1" height="13" fill="#c0c0c0"/><rect x="476" y="644" width="1" height="7" fill="#c0c0c0"/><rect x="484" y="648" width="1" height="3" fill="#c0c0c0"/><rect x="492" y="649" width="1" height="2" fill="#c0c0c0"/><rect x="500" y="651" width="1" height="1" fill="#c0c0c0"/><rect x="508" y="650" width="1" height="3" fill="#c0c0c0"/><rect x="516" y="650" width="1" height="6" fill="#c0c0c0"/><rect x="524" y="650" width="1" height="9" fill="#c0c0c0"/><rect x="532" y="650" width="1" height="8" fill="#c0c0c0"/><rect x="540" y="650" width="1" height="8" fill="#c0c0c0"/><rect x="548" y="650" width="1" height="9" fill="#c0c0c0"/><rect x="556" y="650" width="1" height="6" fill="#c0c0c0"/><rect x="564" y="650" width="1" height="5" fill="#c0c0c0"/><rect x="572" y="650" width="1" height="4" fill="#c0c0c0"/><rect x="580" y="650" width="1" height="5" fill="#c0c0c0"/><rect x="588" y="650" width="1" height="6" fill="#c0c0c0"/><rect x="596" y="650" width="1" height="6" fill="#c0c0c0"/><rect x="604" y="650" width="1" height="6" fill="#c0c0c0"/><rect x="612" y="650" width="1" height="6" fill="#c0c0c0"/><rect x="620" y="650" width="1" height="6" fill="#c0c0c0"/><rect x="628" y="650" width="1" height="6" fill="#c0c0c0"/><rect x="636" y="650" width="1" height="6" fill="#c0c0c0"/><rect x="644" y="650" width="1" height="5" fill="#c0c0c0"/><rect x="652" y="650" width="1" height="4" fill="#c0c0c0"/><rect x="660" y="650" width="1" height="5" fill="#c0c0c0"/><rect x="668" y="650" width="1" height="5" fill="#c0c0c0"/><rect x="676" y="650" width="1" height="5" fill="#c0c0c0"/><rect x="684" y="650" width="1" height="3" fill="#c0c0c0"/><rect x="692" y="650" width="1" height="2" fill="#c0c0c0"/><rect x="700" y="649" width="1" height="2" fill="#c0c0c0"/><rect x="708" y="639" width="1" height="12" fill="#c0c0c0"/><rect x="716" y="631" width="1" height="20" fill="#c0c0c0"/><rect x="724" y="608" width="1" height="43" fill="#c0c0c0"/><rect x="732" y="599" width="1" height="52" fill="#c0c0c0"/><rect x="740" y="588" width="1" height="63" fill="#c0c0c0"/><rect x="748" y="582" width="1" height="69" fill="#c0c0c0"/><rect x="756" y="575" width="1" height="76" fill="#c0c0c0"/><rect x="764" y="571" width="1" height="80" fill="#c0c0c0"/><rect x="772" y="578" width="1" height="73" fill="#c0c0c0"/><rect x="780" y="581" width="1" height="70" fill="#c0c0c0"/><rect x="788" y="584" width="1" height="67" fill="#c0c0c0"/><rect x="796" y="587" width="1" height="64" fill="#c0c0c0"/><rect x="804" y="587" width="1" height="64" fill="#c0c0c0"/><rect x="812" y="589" width="1" height="62" fill="#c0c0c0"/><rect x="820" y="591" width="1" height="60" fill="#c0c0c0"/><rect x="828" y="590" width="1" height="61" fill="#c0c0c0"/><rect x="836" y="585" width="1" height="66" fill="#c0c0c0"/><rect x="844" y="579" width="1" height="72" fill="#c0c0c0"/><rect x="852" y="574" width="1" height="77" fill="#c0c0c0"/><rect x="860" y="572" width="1" height="79" fill="#c0c0c0"/><rect x="868" y="573" width="1" height="78" fill="#c0c0c0"/><rect x="876" y="573" width="1" height="78" fill="#c0c0c0"/><rect x="884" y="571" width="1" height="80" fill="#c0c0c0"/><rect x="892" y="572" width="1" height="79" fill="#c0c0c0"/><rect x="900" y="577" width="1" height="74" fill="#c0c0c0"/><rect x="908" y="582" width="1" height="69" fill="#c0c0c0"/><rect x="916" y="591" width="1" height="60" fill="#c0c0c0"/><rect x="924" y="597" width="1" height="54" fill="#c0c0c0"/><rect x="932" y="604" width="1" height="47" fill="#c0c0c0"/><rect x="940" y="612" width="1" height="39" fill="#c0c0c0"/><rect x="948" y="622" width="1" height="29" fill="#c0c0c0"/><rect x="956" y="632" width="1" height="19" fill="#c0c0c0"/><rect x="964" y="638" width="1" height="13" fill="#c0c0c0"/><rect x="972" y="640" width="1" height="11" fill="#c0c0c0"/><rect x="980" y="642" width="1" height="9" fill="#c0c0c0"/><rect x="988" y="641" width="1" height="10" fill="#c0c0c0"/><rect x="996" y="639" width="1" height="12" fill="#c0c0c0"/><rect x="1004" y="639" width="1" height="12" fill="#c0c0c0"/><rect x="1012" y="640" width="1" height="11" fill="#c0c0c0"/><rect x="1020" y="637" width="1" height="14" fill="#c0c0c0"/><rect x="1028" y="636" width="1" height="15" fill="#c0c0c0"/><rect x="1036" y="633" width="1" height="18" fill="#c0c0c0"/><rect x="1044" y="631" width="1" height="20" fill="#c0c0c0"/><rect x="1052" y="629" width="1" height="22" fill="#c0c0c0"/><rect x="1060" y="628" width="1" height="23" fill="#c0c0c0"/><rect x="1068" y="629" width="1" height="22" fill="#c0c0c0"/><rect x="1076" y="633" width="1" height="18" fill="#c0c0c0"/><rect x="1084" y="633" width="1" height="18" fill="#c0c0c0"/><rect x="1092" y="631" width="1" height="20" fill="#c0c0c0"/><rect x="1100" y="629" width="1" height="22" fill="#c0c0c0"/><rect x="1108" y="634" width="1" height="17" fill="#c0c0c0"/><rect x="1116" y="640" width="1" height="11" fill="#c0c0c0"/><polyline points="4.5,662.5 12.5,661.4 20.5,660.1 28.5,658.9 36.5,657.7 44.5,656.6 52.5,655.8 60.5,655.4 68.5,655.2 76.5,654.9 84.5,654.8 92.5,655.0 100.5,655.1 108.5,655.6 116.5,655.9 124.5,656.3 132.5,656.3 140.5,656.1 148.5,655.6 156.5,654.8 164.5,653.7 172.5,652.6 180.5,651.0 188.5,649.2 196.5,647.6 204.5,645.6 212.5,643.4 220.5,641.0 228.5,637.9 236.5,634.3 244.5,629.4 252.5,623.6 260.5,617.3 268.5,610.4 276.5,603.4 284.5,596.7 292.5,590.5 300.5,585.1 308.5,580.7 316.5,578.1 324.5,576.8 332.5,576.5 340.5,577.2 348.5,578.6 356.5,580.6 364.5,583.2 372.5,586.1 380.5,589.1 388.5,592.0 396.5,594.5 404.5,596.8 412.5,599.3 420.5,602.0 428.5,604.7 436.5,607.1 444.5,609.3 452.5,612.0 460.5,615.1 468.5,618.9 476.5,623.3 484.5,627.7 492.5,631.9 500.5,636.0 508.5,640.2 516.5,644.4 524.5,648.3 532.5,651.4 540.5,653.7 548.5,655.3 556.5,656.3 564.5,656.9 572.5,657.3 580.5,657.5 588.5,657.5 596.5,657.2 604.5,657.0 612.5,656.7 620.5,656.5 628.5,656.5 636.5,656.5 644.5,656.6 652.5,656.5 660.5,656.4 668.5,656.3 676.5,656.1 684.5,655.8 692.5,655.3 700.5,654.4 708.5,652.6 716.5,649.9 724.5,644.8 732.5,638.5 740.5,631.1 748.5,623.0 756.5,614.4 764.5,605.4 772.5,597.6 780.5,591.2 788.5,585.9 796.5,583.7 804.5,582.4 812.5,582.4 820.5,583.4 828.5,585.1 836.5,586.6 844.5,586.7 852.5,585.9 860.5,584.6 868.5,583.0 876.5,581.4 884.5,579.4 892.5,577.3 900.5,575.8 908.5,575.4 916.5,576.9 924.5,579.4 932.5,583.0 940.5,587.3 948.5,592.6 956.5,599.4 964.5,606.8 972.5,613.8 980.5,620.4 988.5,626.0 996.5,630.7 1004.5,634.6 1012.5,637.7 1020.5,639.5 1028.5,639.9 1036.5,639.4 1044.5,638.3 1052.5,636.9 1060.5,635.4 1068.5,634.3 1076.5,633.7 1084.5,633.0 1092.5,632.2 1100.5,631.4 1108.5,631.6 1116.5,632.6" fill="none" stroke="#ff0000" stroke-width="1" stroke-dasharray="3,3"/><text transform="translate(8 577) scale(0.89 1)" x="0" y="0" font-size="10.5" fill="#000" stroke="#000" stroke-width="0.05" letter-spacing="0" text-anchor="start" font-weight="normal">MACD(12,26,9) 0.007845 0.013452</text><rect x="1420" y="566" width="1" height="1" fill="#000"/><text transform="translate(1423 575) scale(0.89 1)" x="0" y="0" font-size="10.5" fill="#000" stroke="#000" stroke-width="0.05" letter-spacing="0" text-anchor="start" font-weight="normal">0.0593</text><rect x="1420" y="650" width="2" height="1" fill="#000"/><text transform="translate(1423 654) scale(0.89 1)" x="0" y="0" font-size="10.5" fill="#000" stroke="#000" stroke-width="0.05" letter-spacing="0" text-anchor="start" font-weight="normal">0.00</text><text transform="translate(1423 664) scale(0.89 1)" x="0" y="0" font-size="10.5" fill="#000" stroke="#000" stroke-width="0.05" letter-spacing="0" text-anchor="start" font-weight="normal">-0.01128</text><line x1="5" y1="709.5" x2="1419" y2="709.5" stroke="#c0c0c0" stroke-width="1" stroke-dasharray="3,3"/><line x1="5" y1="760.5" x2="1419" y2="760.5" stroke="#c0c0c0" stroke-width="1" stroke-dasharray="3,3"/><polyline points="4.5,736.6 12.5,736.6 20.5,734.3 28.5,740.4 36.5,738.4 44.5,741.4 52.5,735.9 60.5,737.3 68.5,736.7 76.5,732.0 84.5,741.8 92.5,742.6 100.5,737.4 108.5,750.6 116.5,738.3 124.5,735.4 132.5,730.2 140.5,727.6 148.5,723.3 156.5,728.1 164.5,726.9 172.5,727.9 180.5,731.5 188.5,724.4 196.5,730.0 204.5,714.6 212.5,712.5 220.5,710.3 228.5,703.4 236.5,701.9 244.5,693.5 252.5,698.7 260.5,698.6 268.5,695.6 276.5,694.3 284.5,699.4 292.5,701.8 300.5,700.6 308.5,705.5 316.5,711.1 324.5,713.5 332.5,710.7 340.5,708.7 348.5,707.4 356.5,709.6 364.5,717.5 372.5,715.7 380.5,714.3 388.5,714.2 396.5,710.0 404.5,709.7 412.5,721.5 420.5,720.4 428.5,718.9 436.5,717.5 444.5,720.0 452.5,738.1 460.5,739.0 468.5,750.2 476.5,747.7 484.5,742.7 492.5,738.1 500.5,738.9 508.5,743.7 516.5,744.5 524.5,748.8 532.5,736.6 540.5,737.0 548.5,740.9 556.5,730.9 564.5,734.0 572.5,731.4 580.5,740.8 588.5,738.4 596.5,737.0 604.5,739.2 612.5,736.2 620.5,738.1 628.5,739.6 636.5,735.1 644.5,734.5 652.5,733.3 660.5,739.7 668.5,740.6 676.5,734.4 684.5,728.0 692.5,730.6 700.5,720.5 708.5,703.2 716.5,702.2 724.5,686.6 732.5,710.6 740.5,707.0 748.5,708.1 756.5,706.6 764.5,706.3 772.5,726.3 780.5,721.6 788.5,722.1 796.5,722.6 804.5,718.1 812.5,718.6 820.5,719.9 828.5,716.1 836.5,709.5 844.5,706.0 852.5,706.6 860.5,706.2 868.5,714.2 876.5,711.1 884.5,707.3 892.5,712.7 900.5,721.0 908.5,722.2 916.5,731.3 924.5,728.2 932.5,730.4 940.5,735.1 948.5,741.2 956.5,744.8 964.5,739.4 972.5,734.9 980.5,734.1 988.5,730.2 996.5,727.4 1004.5,729.7 1012.5,730.6 1020.5,725.3 1028.5,725.8 1036.5,720.5 1044.5,722.0 1052.5,721.0 1060.5,721.9 1068.5,728.5 1076.5,735.2 1084.5,727.5 1092.5,720.8 1100.5,722.3 1108.5,738.1 1116.5,741.1" fill="none" stroke="#1e90ff" stroke-width="1"/><text transform="translate(8 682) scale(0.89 1)" x="0" y="0" font-size="10.5" fill="#000" stroke="#000" stroke-width="0.05" letter-spacing="0" text-anchor="start" font-weight="normal">RSI(14) 44.7643</text><text transform="translate(1423 680) scale(0.89 1)" x="0" y="0" font-size="10.5" fill="#000" stroke="#000" stroke-width="0.05" letter-spacing="0" text-anchor="start" font-weight="normal">100</text><text transform="translate(1423 713) scale(0.89 1)" x="0" y="0" font-size="10.5" fill="#000" stroke="#000" stroke-width="0.05" letter-spacing="0" text-anchor="start" font-weight="normal">70</text><text transform="translate(1423 764) scale(0.89 1)" x="0" y="0" font-size="10.5" fill="#000" stroke="#000" stroke-width="0.05" letter-spacing="0" text-anchor="start" font-weight="normal">30</text><text transform="translate(1423 796) scale(0.89 1)" x="0" y="0" font-size="10.5" fill="#000" stroke="#000" stroke-width="0.05" letter-spacing="0" text-anchor="start" font-weight="normal">0</text><rect x="1420" y="670" width="1" height="1" fill="#000"/><rect x="1420" y="709" width="1" height="1" fill="#000"/><rect x="1420" y="760" width="1" height="1" fill="#000"/><rect x="1420" y="798" width="1" height="1" fill="#000"/><polygon points="4,794 4,799 9,799" fill="#c0c0c0"/><rect x="4" y="800" width="1" height="3" fill="#000"/><text transform="translate(3 811.5) scale(0.89 1)" x="0" y="0" font-size="10.5" fill="#000" stroke="#000" stroke-width="0.05" letter-spacing="0" text-anchor="start" font-weight="normal">29 Mar 2019</text><rect x="68" y="800" width="1" height="3" fill="#000"/><text transform="translate(67 811.5) scale(0.89 1)" x="0" y="0" font-size="10.5" fill="#000" stroke="#000" stroke-width="0.05" letter-spacing="0" text-anchor="start" font-weight="normal">10 Apr 2019</text><rect x="132" y="800" width="1" height="3" fill="#000"/><text transform="translate(131 811.5) scale(0.89 1)" x="0" y="0" font-size="10.5" fill="#000" stroke="#000" stroke-width="0.05" letter-spacing="0" text-anchor="start" font-weight="normal">23 Apr 2019</text><rect x="196" y="800" width="1" height="3" fill="#000"/><text transform="translate(195 811.5) scale(0.89 1)" x="0" y="0" font-size="10.5" fill="#000" stroke="#000" stroke-width="0.05" letter-spacing="0" text-anchor="start" font-weight="normal">3 May 2019</text><rect x="260" y="800" width="1" height="3" fill="#000"/><text transform="translate(259 811.5) scale(0.89 1)" x="0" y="0" font-size="10.5" fill="#000" stroke="#000" stroke-width="0.05" letter-spacing="0" text-anchor="start" font-weight="normal">15 May 2019</text><rect x="324" y="800" width="1" height="3" fill="#000"/><text transform="translate(323 811.5) scale(0.89 1)" x="0" y="0" font-size="10.5" fill="#000" stroke="#000" stroke-width="0.05" letter-spacing="0" text-anchor="start" font-weight="normal">27 May 2019</text><rect x="388" y="800" width="1" height="3" fill="#000"/><text transform="translate(387 811.5) scale(0.89 1)" x="0" y="0" font-size="10.5" fill="#000" stroke="#000" stroke-width="0.05" letter-spacing="0" text-anchor="start" font-weight="normal">6 Jun 2019</text><rect x="452" y="800" width="1" height="3" fill="#000"/><text transform="translate(451 811.5) scale(0.89 1)" x="0" y="0" font-size="10.5" fill="#000" stroke="#000" stroke-width="0.05" letter-spacing="0" text-anchor="start" font-weight="normal">18 Jun 2019</text><rect x="516" y="800" width="1" height="3" fill="#000"/><text transform="translate(515 811.5) scale(0.89 1)" x="0" y="0" font-size="10.5" fill="#000" stroke="#000" stroke-width="0.05" letter-spacing="0" text-anchor="start" font-weight="normal">28 Jun 2019</text><rect x="580" y="800" width="1" height="3" fill="#000"/><text transform="translate(579 811.5) scale(0.89 1)" x="0" y="0" font-size="10.5" fill="#000" stroke="#000" stroke-width="0.05" letter-spacing="0" text-anchor="start" font-weight="normal">10 Jul 2019</text><rect x="644" y="800" width="1" height="3" fill="#000"/><text transform="translate(643 811.5) scale(0.89 1)" x="0" y="0" font-size="10.5" fill="#000" stroke="#000" stroke-width="0.05" letter-spacing="0" text-anchor="start" font-weight="normal">22 Jul 2019</text><rect x="708" y="800" width="1" height="3" fill="#000"/><text transform="translate(707 811.5) scale(0.89 1)" x="0" y="0" font-size="10.5" fill="#000" stroke="#000" stroke-width="0.05" letter-spacing="0" text-anchor="start" font-weight="normal">1 Aug 2019</text><rect x="772" y="800" width="1" height="3" fill="#000"/><text transform="translate(771 811.5) scale(0.89 1)" x="0" y="0" font-size="10.5" fill="#000" stroke="#000" stroke-width="0.05" letter-spacing="0" text-anchor="start" font-weight="normal">13 Aug 2019</text><rect x="836" y="800" width="1" height="3" fill="#000"/><text transform="translate(835 811.5) scale(0.89 1)" x="0" y="0" font-size="10.5" fill="#000" stroke="#000" stroke-width="0.05" letter-spacing="0" text-anchor="start" font-weight="normal">23 Aug 2019</text><rect x="900" y="800" width="1" height="3" fill="#000"/><text transform="translate(899 811.5) scale(0.89 1)" x="0" y="0" font-size="10.5" fill="#000" stroke="#000" stroke-width="0.05" letter-spacing="0" text-anchor="start" font-weight="normal">4 Sep 2019</text><rect x="964" y="800" width="1" height="3" fill="#000"/><text transform="translate(963 811.5) scale(0.89 1)" x="0" y="0" font-size="10.5" fill="#000" stroke="#000" stroke-width="0.05" letter-spacing="0" text-anchor="start" font-weight="normal">16 Sep 2019</text><rect x="1028" y="800" width="1" height="3" fill="#000"/><text transform="translate(1027 811.5) scale(0.89 1)" x="0" y="0" font-size="10.5" fill="#000" stroke="#000" stroke-width="0.05" letter-spacing="0" text-anchor="start" font-weight="normal">26 Sep 2019</text><rect x="1092" y="800" width="1" height="3" fill="#000"/><text transform="translate(1091 811.5) scale(0.89 1)" x="0" y="0" font-size="10.5" fill="#000" stroke="#000" stroke-width="0.05" letter-spacing="0" text-anchor="start" font-weight="normal">8 Oct 2019</text><rect x="0" y="820" width="1459" height="1" fill="#e6e6e6"/><rect x="0" y="821" width="1459" height="1" fill="#f4f4f4"/><rect x="0" y="822" width="1459" height="1" fill="#000"/><rect x="0" y="823" width="1459" height="19" fill="#f0f0f0"/><rect x="0" y="842" width="1459" height="3" fill="#f8f8f8"/><rect x="0" y="845" width="1459" height="1" fill="#e4e4e4"/><rect x="0" y="846" width="1459" height="1" fill="#a0a0a0"/><rect x="0" y="823" width="1" height="18" fill="#7a7a7a"/><rect x="437" y="822" width="112" height="19" fill="#000"/><rect x="438" y="822" width="110" height="18" fill="#fff"/><text x="16.1" y="837" font-size="12" fill="#6d6d6d" stroke="#6d6d6d" stroke-width="0" letter-spacing="0" text-anchor="start" font-weight="normal" textLength="85.4" lengthAdjust="spacing">EURUSD-,Daily</text><text x="122.5" y="837" font-size="12" fill="#6d6d6d" stroke="#6d6d6d" stroke-width="0" letter-spacing="0" text-anchor="start" font-weight="normal" textLength="87.6" lengthAdjust="spacing">AUDUSD-,Daily</text><text x="232.5" y="837" font-size="12" fill="#6d6d6d" stroke="#6d6d6d" stroke-width="0" letter-spacing="0" text-anchor="start" font-weight="normal" textLength="85.2" lengthAdjust="spacing">USDCHF-,Daily</text><text x="339.7" y="837" font-size="12" fill="#6d6d6d" stroke="#6d6d6d" stroke-width="0" letter-spacing="0" text-anchor="start" font-weight="normal" textLength="86.6" lengthAdjust="spacing">USDCAD-,Daily</text><text x="448.9" y="837" font-size="12" fill="#000" stroke="#000" stroke-width="0" letter-spacing="0" text-anchor="start" font-weight="normal" textLength="88.3" lengthAdjust="spacing">USDCNH-,Daily</text><text x="559.9" y="837" font-size="12" fill="#6d6d6d" stroke="#6d6d6d" stroke-width="0" letter-spacing="0" text-anchor="start" font-weight="normal" textLength="97.6" lengthAdjust="spacing">EURCHF-,Weekly</text><text x="680.5" y="837" font-size="12" fill="#6d6d6d" stroke="#6d6d6d" stroke-width="0" letter-spacing="0" text-anchor="start" font-weight="normal" textLength="101.2" lengthAdjust="spacing">XAUUSD-,Weekly</text><text x="803.5" y="837" font-size="12" fill="#6d6d6d" stroke="#6d6d6d" stroke-width="0" letter-spacing="0" text-anchor="start" font-weight="normal" textLength="73.7" lengthAdjust="spacing">GBPUSD-,H1</text><text x="899.5" y="837" font-size="12" fill="#6d6d6d" stroke="#6d6d6d" stroke-width="0" letter-spacing="0" text-anchor="start" font-weight="normal" textLength="57.4" lengthAdjust="spacing">UKOil-,H1</text><text x="978.6" y="837" font-size="12" fill="#6d6d6d" stroke="#6d6d6d" stroke-width="0" letter-spacing="0" text-anchor="start" font-weight="normal" textLength="83.9" lengthAdjust="spacing">USDX-,Weekly</text><text x="1083.0" y="837" font-size="12" fill="#6d6d6d" stroke="#6d6d6d" stroke-width="0" letter-spacing="0" text-anchor="start" font-weight="normal" textLength="70.9" lengthAdjust="spacing">EURCHF-,H1</text><text x="1176.7" y="837" font-size="12" fill="#6d6d6d" stroke="#6d6d6d" stroke-width="0" letter-spacing="0" text-anchor="start" font-weight="normal" textLength="56.5" lengthAdjust="spacing">USOil-,H1</text><rect x="113" y="825" width="1" height="14" fill="#6d6d6d"/><rect x="222" y="825" width="1" height="14" fill="#6d6d6d"/><rect x="329" y="825" width="1" height="14" fill="#6d6d6d"/><rect x="669" y="825" width="1" height="14" fill="#6d6d6d"/><rect x="793" y="825" width="1" height="14" fill="#6d6d6d"/><rect x="889" y="825" width="1" height="14" fill="#6d6d6d"/><rect x="969" y="825" width="1" height="14" fill="#6d6d6d"/><rect x="1073" y="825" width="1" height="14" fill="#6d6d6d"/><rect x="1165" y="825" width="1" height="14" fill="#6d6d6d"/><rect x="1245" y="825" width="1" height="14" fill="#6d6d6d"/><polygon points="1438,828 1438,834 1435,831" fill="#8a8a8a"/><polygon points="1454,828 1454,834 1457,831" fill="#8a8a8a"/><polygon points="7,34 14,34 10.5,30" fill="#000"/><text transform="translate(19 35) scale(0.89 1)" x="0" y="0" font-size="10.5" fill="#000" stroke="#000" stroke-width="0.05" letter-spacing="0" text-anchor="start" font-weight="normal" xml:space="preserve">USDCNH-,Daily  7.10239 7.10602 7.08964 7.08970</text>
<g><rect x="5" y="41" width="223" height="68" fill="#ffffff"/><rect x="7" y="43" width="52" height="25" fill="url(#gtop)"/><rect x="7" y="67" width="109" height="40" fill="url(#gbig)"/><rect x="118" y="67" width="108" height="40" fill="url(#gbig)"/><rect x="174" y="43" width="52" height="25" fill="url(#gtop)"/><rect x="7" y="43" width="52" height="1" fill="#0000c8"/><rect x="174" y="43" width="52" height="1" fill="#0000c8"/><rect x="59" y="43" width="115" height="24" fill="#ffffff"/><rect x="116" y="67" width="2" height="40" fill="#ffffff"/><rect x="11" y="66" width="44" height="1" fill="#1a1a9a"/><rect x="11" y="67" width="44" height="1" fill="#7a7aff"/><rect x="178" y="66" width="44" height="1" fill="#1a1a9a"/><rect x="178" y="67" width="44" height="1" fill="#7a7aff"/><rect x="61" y="43" width="111" height="22" fill="#a8a8a8"/><rect x="62" y="44" width="109" height="20" fill="#ffffff"/><rect x="62" y="44" width="20" height="20" fill="url(#gbtn)"/><rect x="82" y="44" width="1" height="20" fill="#b8b8b8"/><rect x="151" y="44" width="20" height="20" fill="url(#gbtn)"/><rect x="150" y="44" width="1" height="20" fill="#b8b8b8"/><polygon points="69,52 75,52 72,55" fill="#5a6aaa"/><polygon points="157.5,55.5 163.5,55.5 160.5,52" fill="#5a6aaa"/><text x="147" y="58" font-size="12.5" fill="#000" text-anchor="end">1.00</text><text x="33" y="59" font-size="12" fill="#fff" text-anchor="middle" transform="translate(33 0) scale(0.88 1) translate(-33 0)">SELL</text><text x="200" y="59" font-size="12" fill="#fff" text-anchor="middle" transform="translate(200 0) scale(0.88 1) translate(-200 0)">BUY</text><text x="51" y="98" font-size="12" font-weight="bold" fill="#fff" text-anchor="end">7.08</text><text x="53" y="98" font-size="33" fill="#fff" transform="translate(88.2 0) scale(0.96 1) translate(-88.2 0)">97</text><text x="94" y="81" font-size="12" font-weight="bold" fill="#fff">0</text><text x="161" y="98" font-size="12" font-weight="bold" fill="#fff" text-anchor="end">7.09</text><text x="163" y="98" font-size="33" fill="#fff" transform="translate(199.5 0) scale(0.95 1) translate(-198.6 0)">25</text><text x="205" y="81" font-size="12" font-weight="bold" fill="#fff">8</text></g>
</svg>
</body></html>
